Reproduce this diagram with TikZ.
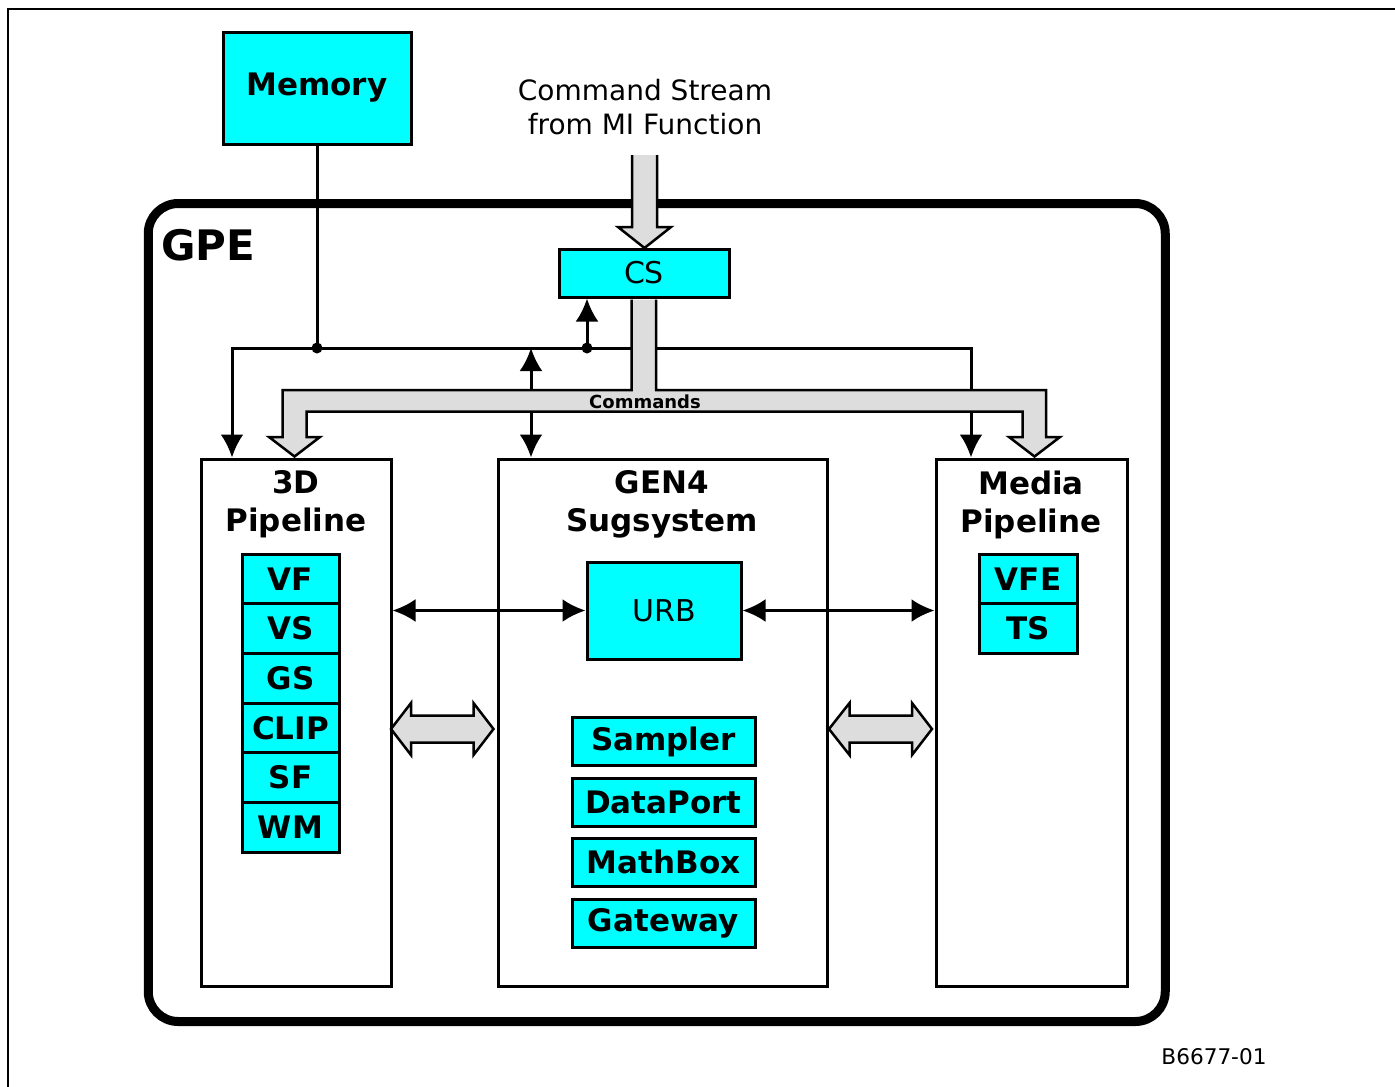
\documentclass[tikz,border=0pt]{standalone}
\usepackage{fontspec}
\setmainfont{DejaVu Sans}
\usetikzlibrary{arrows.meta,calc,positioning}
\definecolor{unitcyan}{RGB}{0,255,255}
\definecolor{busgray}{RGB}{221,221,221}

\begin{document}
\begin{tikzpicture}[x=1pt,y=-1pt,
    >={Latex[length=23pt,width=23pt]},
    block/.style={draw, line width=3pt, inner sep=0pt},
    unit/.style={draw, fill=unitcyan, line width=3pt, inner sep=0pt, font=\fontsize{31}{36}\selectfont\bfseries},
    title/.style={anchor=north, align=center, inner sep=0pt, font=\fontsize{31}{38}\selectfont\bfseries},
    bus/.style={line width=3pt},
    cmdbus/.style={draw, fill=busgray, line width=2.5pt}]
    \useasboundingbox (0,0) rectangle (1395,1087);

    % Frame
    \draw[line width=1.5pt] (8,1087) |- (1395,9);

    % GPE
    \node[draw, line width=9pt, rounded corners=30pt, minimum width=1017, minimum height=818] (gpe) at (656.75,612.5) {};
    \node[anchor=west, inner sep=0pt, font=\fontsize{42}{50}\selectfont\bfseries] (gpelabel) at (161,245) {GPE};

    % Memory and command stream
    \node[unit, minimum width=188, minimum height=112, font=\fontsize{31}{38}\selectfont\bfseries] (mem) at (317,88) {Memory};
    \node[anchor=north, align=center, inner sep=0pt, font=\fontsize{28}{34}\selectfont] (cmdsrc) at (645,79) {Command Stream\\from MI Function};
    \node[unit, font=\fontsize{30}{36}\selectfont, minimum width=170, minimum height=48] (cs) at (644,273) {CS};

    % Blocks
    \node[block, minimum width=190, minimum height=527] (pipe3d) at (296,722.5) {};
    \node[block, minimum width=329, minimum height=527] (gen4) at (662.5,722.5) {};
    \node[block, minimum width=191, minimum height=527] (media) at (1031.5,722.5) {};
    \node[title] (pipe3dtitle) at (296,470.5) {3D\\Pipeline};
    \node[title] (gen4title) at (662,470.5) {GEN4\\Sugsystem};
    \node[title] (mediatitle) at (1031,470.5) {Media\\Pipeline};

    % 3D stages
    \foreach \unitname [count=\i from 0] in {VF,VS,GS,CLIP,SF,WM}
        \node[unit, minimum width=97, minimum height=49.7] (\unitname) at (290.5,{578.9+49.7*\i}) {\unitname};

    % Media stages
    \node[unit, minimum width=98, minimum height=49.7] (VFE) at (1028,578.9) {VFE};
    \node[unit, minimum width=98, minimum height=49.7] (TS) at (1028,628.6) {TS};

    % GEN4 units
    \node[unit, font=\fontsize{30}{36}\selectfont, minimum width=154, minimum height=97] (urb) at (664,610.5) {URB};
    \foreach \unitname/\yy in {Sampler/741.5,DataPort/802,MathBox/862,Gateway/923}
        \node[unit, minimum width=183, minimum height=48] (\unitname) at (663.5,\yy) {\unitname};

    \draw[bus,<->] (pipe3d.east |- urb.west) -- (urb.west);
    \draw[bus,<->] (urb.east) -- (media.west |- urb.east);

    % Memory bus
    \coordinate (busL) at (232,348);
    \coordinate (busR) at (971,348);
    \coordinate (memtap) at (mem.south |- busL);
    \coordinate (cstap) at (587,348);
    \coordinate (gentap) at (531,348);
    \draw[bus,<->] (busL |- pipe3d.north) -- (busL) -- (busR) -- (busR |- media.north);
    \draw[bus] (mem.south) -- (memtap);
    \draw[bus,->] (cstap) -- (cstap |- cs.south);
    \draw[bus,<->] (gentap) -- (gentap |- gen4.north);
    \fill (memtap) circle (5.5pt) (cstap) circle (5.5pt);

    % Commands
    \draw[cmdbus] (632,155) -- (632,227) -- (618,227) -- (644.5,248) -- (671,227) -- (657,227) -- (657,155);
    \draw[cmdbus] (631.5,299.5) -- (631.5,390) -- (282.5,390) -- (282.5,437) -- (269,437) -- (294.5,456.5) -- (320,437) -- (306.5,437) -- (306.5,411.5)
        -- (1022.5,411.5) -- (1022.5,437) -- (1009,437) -- (1034.5,456.5) -- (1060,437) -- (1046,437) -- (1046,390) -- (656,390) -- (656,299.5);
    \node[inner sep=0pt, font=\fontsize{18}{20}\selectfont\bfseries] (cmdlabel) at (645,402) {Commands};

    % Wide links
    \draw[cmdbus] (391,729) -- (411,703) -- (411,715.5) -- (473.5,715.5) -- (473.5,703) -- (493.5,729) -- (473.5,755) -- (473.5,742.5) -- (411,742.5) -- (411,755) -- cycle;
    \draw[cmdbus] (829,729) -- (849.5,703) -- (849.5,715.5) -- (912,715.5) -- (912,703) -- (932,729) -- (912,755) -- (912,742.5) -- (849.5,742.5) -- (849.5,755) -- cycle;

    \node[font=\fontsize{21.6}{26}\selectfont] (figid) at (1214,1057) {B6677-01};
\end{tikzpicture}
\end{document}
